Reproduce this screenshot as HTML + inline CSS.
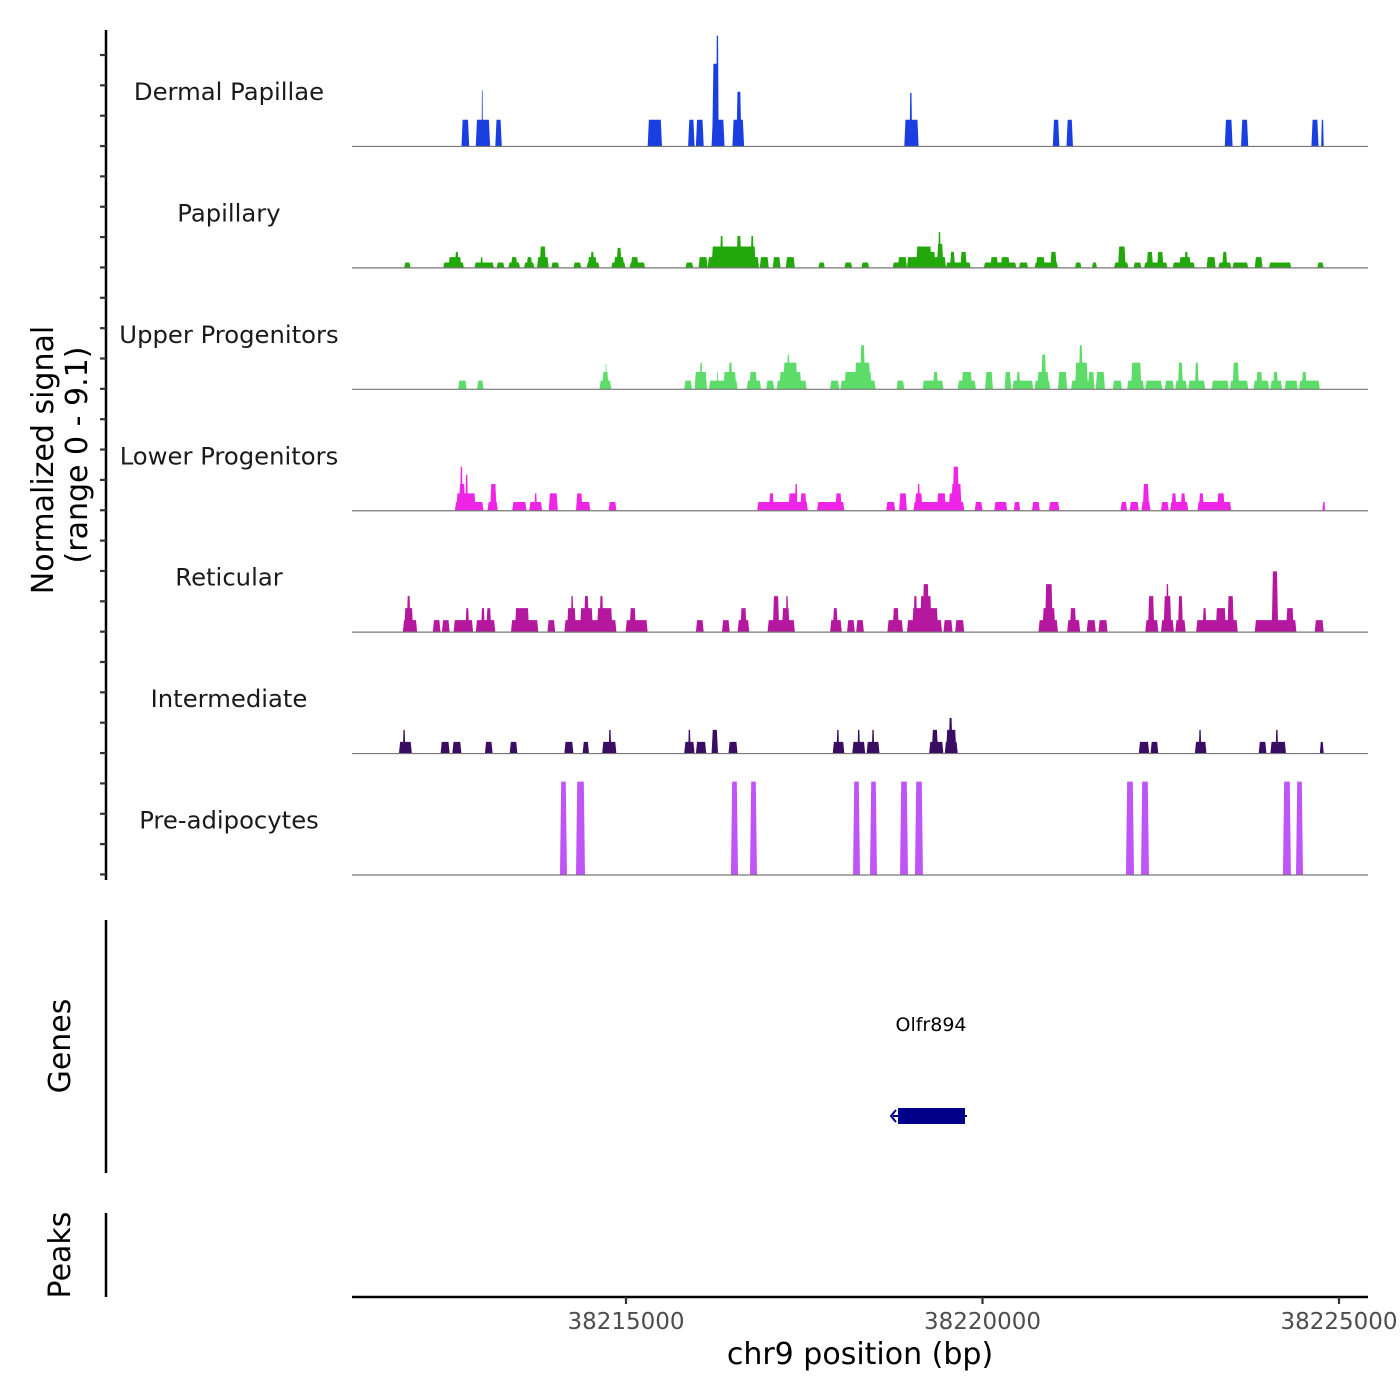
<!DOCTYPE html>
<html><head><meta charset="utf-8"><style>
body{margin:0;background:#fff;}
svg{display:block;font-family:"DejaVu Sans","Liberation Sans",sans-serif;}
</style></head><body>
<svg id="chart" width="1400" height="1400" viewBox="0 0 1400 1400" xmlns="http://www.w3.org/2000/svg">
<g id="axes"></g>
<g id="tracks"></g>
<g id="labels">
<text transform="translate(53,460) rotate(-90)" text-anchor="middle" font-size="30" fill="#000">Normalized signal</text>
<text transform="translate(87,455) rotate(-90)" text-anchor="middle" font-size="30" fill="#000">(range 0 - 9.1)</text>
<text transform="translate(70,1046) rotate(-90)" text-anchor="middle" font-size="30" fill="#000">Genes</text>
<text transform="translate(70,1255) rotate(-90)" text-anchor="middle" font-size="30" fill="#000">Peaks</text>
<text x="860" y="1364" text-anchor="middle" font-size="30" fill="#000">chr9 position (bp)</text>
<text x="931" y="1031" text-anchor="middle" font-size="19" fill="#000">Olfr894</text>
</g>
</svg>
<script>
const regionStart = 38211157;
const regionEnd = 38225407;
const signalMax = 9.1;
const trackNames = ["Dermal Papillae","Papillary","Upper Progenitors","Lower Progenitors","Reticular","Intermediate","Pre-adipocytes"];
const xTicks = [38215000, 38220000, 38225000];
const geneStart = 7658, geneEnd = 8597;

const dermalStarts = [1535,1736,1818,2010,4147,4714,4823,5043,5052,5107,5335,5390,7746,7820,9829,10021,12241,12469,13456,13593];
const dermalEnds   = [1644,1937,1836,2101,4348,4805,4933,5225,5134,5143,5499,5463,7947,7856,9921,10112,12351,12570,13556,13629];
const dermalVals   = [2.0,2.0,4.2,2.0,2.0,2.0,2.0,2.0,6.2,8.3,2.0,4.1,2.0,4.0,2.0,2.0,2.0,2.0,2.0,2.0];

const papStarts = [731,1279,1352,1443,1717,1800,2028,2192,2229,2412,2448,2594,2631,2795,3106,3289,3307,3343,3636,3672,3709,3892,3910,4677,4860,4988,5043,5161,5390,5591,5719,5901,6084,6541,6906,7144,7582,7655,7783,7911,8075,8203,8221,8331,8386,8532,8861,8952,9098,9354,9573,9592,9793,10140,10377,10688,10743,10962,11108,11145,11291,11510,11601,11674,11985,12150,12204,12350,12661,12862,13538];
const papEnds   = [822,1571,1535,1498,1991,1836,2138,2357,2320,2558,2530,2759,2722,2905,3216,3471,3435,3398,3837,3818,3782,4111,4019,4787,4988,5709,5664,5207,5463,5636,5846,6011,6212,6632,7016,7253,7783,7783,8331,8130,8185,8295,8258,8678,8459,8623,9318,9062,9226,9482,9902,9720,9884,10231,10450,10889,10852,11072,11437,11236,11382,11821,11766,11729,12113,12332,12277,12570,12771,13173,13629];
const papVals   = [0.4,0.4,0.8,1.2,0.4,0.8,0.4,0.4,0.8,0.4,0.8,0.8,1.6,0.4,0.4,0.4,0.8,1.2,0.4,0.8,1.5,0.4,0.8,0.4,0.8,0.8,1.6,2.4,2.4,2.4,0.8,0.8,0.8,0.4,0.4,0.4,0.4,0.8,0.8,1.6,1.2,1.8,2.7,0.4,1.2,1.2,0.4,0.8,0.8,0.4,0.4,0.8,1.2,0.4,0.4,0.4,1.6,0.4,0.4,1.2,1.2,0.4,0.8,1.2,0.8,0.4,1.2,0.4,0.8,0.4,0.4];

const upStarts = [1489,1754,3471,3508,3554,4659,4805,4878,5006,5116,5207,5280,5536,5572,5810,5956,5993,6047,6102,6705,6851,6906,7052,7125,7637,8002,8148,8496,8550,8879,9153,9263,9318,9573,9610,9665,9902,10085,10140,10194,10322,10432,10670,10871,10926,11126,11400,11547,11583,11729,11821,12058,12314,12350,12643,12680,12880,12917,13081,13282,13319];
const upEnds   = [1608,1845,3636,3599,3572,4768,4979,4915,5408,5134,5390,5335,5737,5682,5920,6376,6303,6248,6139,6833,7345,7290,7271,7198,7746,8295,8221,8751,8697,8989,9245,9555,9372,9793,9774,9738,10030,10414,10322,10249,10414,10560,10798,11108,11072,11364,11528,11711,11656,11967,11876,12296,12570,12442,12862,12771,13045,12990,13264,13574,13392];
const upVals   = [0.65,0.65,0.65,1.3,1.9,0.65,1.3,2.0,0.65,1.3,1.3,2.0,0.65,1.3,0.65,0.65,1.3,2.0,2.6,0.65,0.65,1.3,2.0,3.3,0.65,0.65,1.3,0.65,1.3,1.3,1.3,0.65,1.3,0.65,1.3,2.6,1.3,0.65,2.0,3.3,1.3,1.3,0.65,0.65,2.0,0.65,0.65,0.65,2.0,0.65,2.0,0.65,0.65,2.0,0.65,1.3,0.65,1.3,0.65,0.65,1.3];

const lowStarts = [1443,1462,1498,1516,1590,1900,1937,2247,2485,2558,2759,3142,3142,3599,5682,5846,6120,6212,6285,6522,6778,7491,7673,7874,7893,7929,8203,8368,8404,8423,8733,9007,9281,9537,9774,10779,10907,11072,11090,11346,11474,11492,11620,11857,11876,12131,13611];
const lowEnds   = [1845,1736,1590,1553,1626,2046,2028,2448,2667,2594,2887,3343,3234,3709,6394,5920,6248,6248,6376,6906,6870,7619,7783,8587,8002,7966,8331,8550,8550,8514,8843,9190,9372,9647,9921,10871,11035,11199,11181,11455,11729,11565,11693,12332,11949,12241,13648];
const lowVals   = [0.65,1.3,2.0,3.3,2.7,0.65,2.0,0.65,0.65,1.3,1.3,0.65,1.3,0.65,0.65,1.3,1.3,2.0,1.3,0.65,1.3,0.65,1.3,0.65,1.3,2.0,1.3,1.3,2.0,3.3,0.65,0.65,0.65,0.65,0.65,0.65,0.65,0.65,2.0,0.65,0.65,1.3,1.3,0.65,1.3,1.3,0.65];

const retStarts = [713,731,767,1133,1261,1425,1590,1736,1809,1882,2229,2284,2741,2978,3015,3069,3197,3252,3435,3471,3837,3892,4823,5189,5408,5445,5828,5901,6029,6084,6705,6742,6943,7071,7509,7582,7783,7856,7874,7966,8002,8295,8459,9628,9683,9719,10030,10067,10304,10469,11126,11163,11346,11382,11418,11547,11583,11839,11930,12113,12277,12661,12899,13100,13502];
const retEnds   = [914,859,822,1242,1370,1699,1644,2010,1864,1955,2613,2485,2850,3709,3142,3106,3380,3325,3654,3526,4147,3983,4933,5298,5572,5536,6212,5993,6139,6120,6870,6815,7052,7180,7728,7673,8276,8221,7929,8130,8094,8423,8587,9902,9865,9829,10213,10158,10432,10597,11309,11254,11528,11492,11455,11693,11656,12424,11985,12259,12369,13246,12990,13209,13629];
const retVals   = [0.9,1.8,2.7,0.9,0.9,0.9,1.8,0.9,1.8,1.8,0.9,1.8,0.9,0.9,1.8,2.7,1.8,2.7,1.8,2.7,0.9,1.8,0.9,0.9,0.9,1.8,0.9,2.7,1.8,2.7,0.9,1.8,0.9,0.9,0.9,1.8,0.9,1.8,2.7,2.7,3.6,0.9,0.9,0.9,1.8,3.6,0.9,1.8,0.9,0.9,0.9,2.7,0.9,2.7,3.6,0.9,2.7,0.9,1.8,1.8,2.7,0.9,4.55,1.8,0.9];

const intStarts = [658,713,1242,1407,1864,2211,2978,3234,3508,3599,4659,4714,4823,5043,5280,6742,6796,7016,7089,7217,7290,8094,8130,8313,8331,8368,11035,11199,11821,11876,12716,12880,12953,13574];
const intEnds   = [840,749,1370,1535,1973,2320,3106,3325,3709,3636,4805,4750,4969,5134,5408,6906,6833,7198,7125,7399,7326,8295,8221,8496,8477,8423,11181,11309,11985,11912,12826,13100,12990,13629];
const intVals   = [0.88,1.78,0.88,0.88,0.88,0.88,0.88,0.88,0.88,1.78,0.88,1.78,0.88,1.78,0.88,0.88,1.78,0.88,1.78,0.88,1.78,0.88,1.78,0.88,1.78,2.68,0.88,0.88,0.88,1.78,0.88,0.88,1.78,0.88];

const preStarts = [2917,3142,5315,5582,7027,7265,7686,7896,10855,11066,13057,13240];
const preEnds   = [3015,3268,5414,5680,7125,7363,7798,8008,10968,11178,13169,13338];
const preVals   = [7.0,7.0,7.0,7.0,7.0,7.0,7.0,7.0,7.0,7.0,7.0,7.0];

const trackStarts = [dermalStarts,papStarts,upStarts,lowStarts,retStarts,intStarts,preStarts];
const trackEnds = [dermalEnds,papEnds,upEnds,lowEnds,retEnds,intEnds,preEnds];
const trackVals = [dermalVals,papVals,upVals,lowVals,retVals,intVals,preVals];
const trackColors = ["#1a3fe0","#22a80a","#5ddc6a","#ee25e6","#b5179e","#3a0c62","#bf55f7"];

const NS = "http://www.w3.org/2000/svg";
const plotL = 352, plotR = 1368;
const pxPerBp = (1339 - 626) / 10000;
function xScale(bp){ return 626 + (bp - 38215000) * pxPerBp; }
function xOff(off){ return xScale(regionStart + off); }
const trackTop = 25, trackH = 121.43;
function baseY(i){ return trackTop + (i + 1) * trackH; }
function yScale(i, v){ return baseY(i) - v / signalMax * trackH; }
function mk(tag, attrs, parent){ const e = document.createElementNS(NS, tag); for (const k in attrs) e.setAttribute(k, attrs[k]); parent.appendChild(e); return e; }

const axes = document.getElementById('axes');
const tracks = document.getElementById('tracks');

let ax = mk('line', {x1:106,y1:30,x2:106,y2:880,stroke:'#000','stroke-width':2.5}, axes);


for (let y = 55; y <= 880; y += 30.35) {
  const t = mk('line', {x1:100,y1:y,x2:106,y2:y,stroke:'#333','stroke-width':2.2}, axes);
  
  
}
ax = mk('line', {x1:106,y1:920,x2:106,y2:1173,stroke:'#000','stroke-width':2.5}, axes);


ax = mk('line', {x1:106,y1:1213,x2:106,y2:1297,stroke:'#000','stroke-width':2.5}, axes);


ax = mk('line', {x1:plotL,y1:1297,x2:plotR,y2:1297,stroke:'#000','stroke-width':2.5}, axes);


xTicks.forEach(v => {
  const x = xScale(v);
  const t = mk('line', {x1:x,y1:1297,x2:x,y2:1304,stroke:'#333','stroke-width':2.2}, axes);
  
  
  const l = mk('text', {x:x,y:1329,'text-anchor':'middle','font-size':23,fill:'#4d4d4d'}, axes);
  l.textContent = v;
  
  
});

trackNames.forEach((name, i) => {
  const g = mk('g', {}, tracks);
  
  
  const st = trackStarts[i], en = trackEnds[i], vs = trackVals[i];
  const b = baseY(i);
  for (let k = 0; k < st.length; k++) {
    const x0 = xOff(st[k]), x1 = xOff(en[k]), y = yScale(i, vs[k]);
    const sl = Math.min(1.2, (x1 - x0) / 4);
    const p = mk('polygon', {points:`${x0},${b} ${x0+sl},${y} ${x1-sl},${y} ${x1},${b}`, fill:trackColors[i]}, g);
    
    
  }
  const bl = mk('line', {x1:plotL,y1:b,x2:plotR,y2:b,stroke:'#777','stroke-width':1.2}, g);
  
  
  const lab = mk('text', {x:229,y:trackTop + i * trackH + 75,'text-anchor':'middle','font-size':24.3,fill:'#1a1a1a'}, g);
  lab.textContent = name;
  
  
});

const gx0 = xOff(geneStart), gx1 = xOff(geneEnd);
const gene = mk('rect', {x:gx0,y:1108,width:gx1-gx0,height:16,fill:'#00008b'}, tracks);


const gl = mk('line', {x1:gx0-5,y1:1116,x2:gx1+2,y2:1116,stroke:'#00008b','stroke-width':2}, tracks);


const ga = mk('path', {d:`M${gx0-2},1110 L${gx0-7},1116 L${gx0-2},1122`,stroke:'#00008b','stroke-width':2,fill:'none'}, tracks);


</script>
</body></html>
